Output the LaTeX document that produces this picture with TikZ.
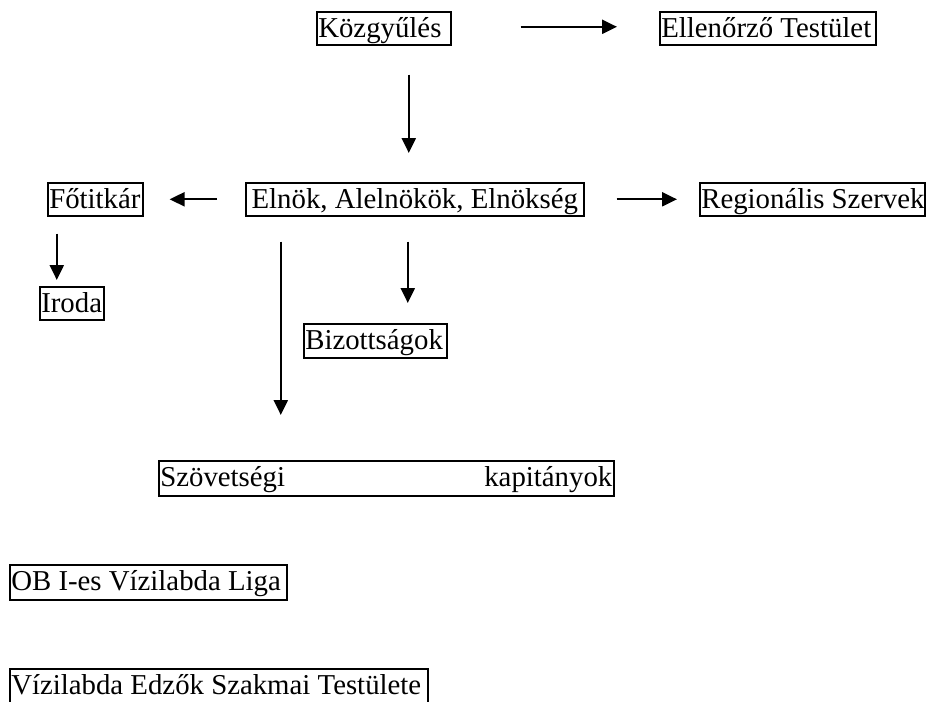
\documentclass[tikz,border=0pt]{standalone}
\usepackage{fontspec}
\setmainfont{Liberation Serif}
\usetikzlibrary{arrows.meta}
\newcommand{\bxl}[2]{\makebox[#1pt][l]{#2}}
\begin{document}
\begin{tikzpicture}[x=1pt,y=-1pt,
  bx/.style={draw, line width=1.6pt, anchor=north west, inner xsep=1.5pt, inner ysep=0.5pt,
    text height=25pt, text depth=7pt, font=\fontsize{28.8}{34}\selectfont},
  arr/.style={line width=2.2pt, -{Triangle[length=15pt,width=14pt]}}]
\useasboundingbox (0,0) rectangle (930,702);
\clip (0,0) rectangle (930,702);
\node[bx] (kozgy) at (316,11) {\bxl{131}{Közgyűlés}};
\node[bx] (ellen) at (659,11) {\bxl{213}{Ellenőrző Testület}};
\node[bx] (fotit) at (47,182) {\bxl{92}{Főtitkár}};
\node[bx] (elnok) at (245,182) {\makebox[335pt][c]{Elnök, Alelnökök, Elnökség}};
\node[bx] (regio) at (699,182) {\bxl{222}{Regionális Szervek}};
\node[bx] (iroda) at (39,286) {\bxl{61}{Iroda}};
\node[bx, text depth=8pt] (bizott) at (303,323) {\bxl{140}{Bizottságok}};
\node[bx, text depth=9pt] (szov) at (158,460) {\makebox[452pt][s]{Szövetségi\hfill kapitányok}};
\node[bx, text depth=9pt] (ob) at (9,564) {\bxl{274}{OB I-es Vízilabda Liga}};
\node[bx, text depth=14pt] (edzok) at (9,668) {\bxl{415}{Vízilabda Edzők Szakmai Testülete}};
% connectors
\draw[arr, shorten <=69pt, shorten >=42pt] ([yshift=1.5pt]kozgy.east) -- ([yshift=1.5pt]ellen.west);
\draw[arr, shorten <=29pt, shorten >=29pt] ([xshift=25pt]kozgy.south) -- ([xshift=-6pt]elnok.north);
\draw[arr, shorten <=28pt, shorten >=26pt] (elnok.west) -- (fotit.east);
\draw[arr, shorten <=32pt, shorten >=22pt] (elnok.east) -- (regio.west);
\draw[arr, shorten <=17pt, shorten >=6pt] ([xshift=-38.5pt]fotit.south) -- ([xshift=-15pt]iroda.north);
\draw[arr, shorten <=25pt, shorten >=20pt] ([xshift=-7pt]elnok.south) -- ([xshift=32.5pt]bizott.north);
\draw[arr, shorten <=25pt, shorten >=45pt] ([xshift=-134pt]elnok.south) -- ([xshift=-105.5pt]szov.north);
\end{tikzpicture}
\end{document}
